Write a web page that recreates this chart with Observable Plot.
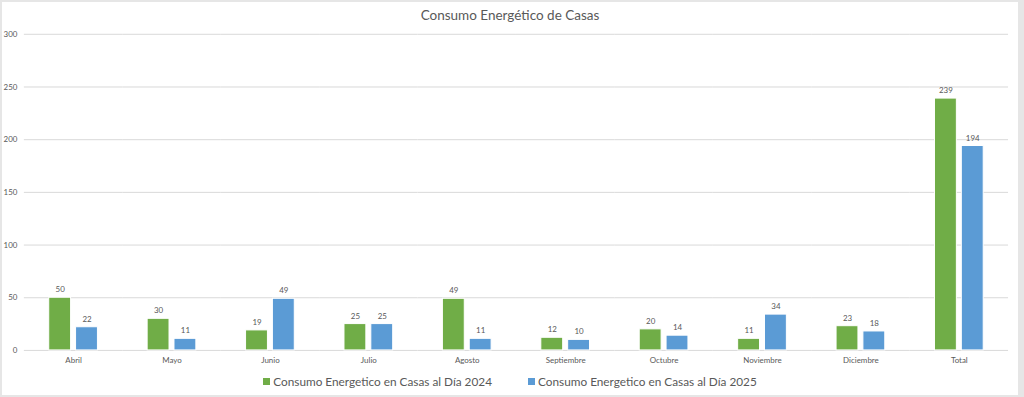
<!DOCTYPE html>
<html>
<head>
<meta charset="utf-8">
<script src="https://cdn.jsdelivr.net/npm/d3@7"></script>
<script src="https://cdn.jsdelivr.net/npm/@observablehq/plot@0.6"></script>
<style>
  html, body { margin: 0; padding: 0; background: #e6e6e6; }
  #frame { position: absolute; left: 2px; top: 2px; width: 1016px; height: 393px; background: #fff; overflow: hidden; font-family: Lato, "Open Sans", sans-serif; color: #595959; }
  #title { position: absolute; left: 0; top: 5px; width: 1016px; text-align: center; font-size: 13.5px; }
  #chart { position: absolute; left: -2px; top: -2px; }
  #legend { position: absolute; left: 0; top: 372px; width: 1016px; display: flex; justify-content: center; gap: 36px; font-size: 11.8px; }
  .item { display: flex; align-items: center; gap: 3px; }
  .sw { width: 7px; height: 7px; display: inline-block; }
</style>
</head>
<body>
<div id="frame">
  <div id="title">Consumo Energético de Casas</div>
  <div id="chart"></div>
  <div id="legend"></div>
</div>
<script>
const months = ["Abril","Mayo","Junio","Julio","Agosto","Septiembre","Octubre","Noviembre","Diciembre","Total"];
const values2024 = [50,30,19,25,49,12,20,11,23,239];
const values2025 = [22,11,49,25,11,10,14,34,18,194];
const series = ["Consumo Energetico en Casas al Día 2024","Consumo Energetico en Casas al Día 2025"];
const colors = ["#70AD47","#5B9BD5"];
const yTicks = [0,50,100,150,200,250,300];

const data = months.flatMap((m, i) => [
  {month: m, series: series[0], value: values2024[i]},
  {month: m, series: series[1], value: values2025[i]}
]);

const chart = Plot.plot({
  width: 1024,
  height: 372,
  marginTop: 34,
  marginBottom: 20,
  marginLeft: 24,
  marginRight: 10,
  style: {fontFamily: "Lato, 'Open Sans', sans-serif", fontSize: "8px", color: "#595959", background: "transparent"},
  fx: {domain: months, padding: 0, label: null, axis: null},
  x: {domain: series, paddingInner: 0.18, paddingOuter: 0.877, axis: null},
  y: {domain: [0, 300], axis: null},
  color: {domain: series, range: colors},
  marks: [
    Plot.gridY(yTicks, {stroke: "#d9d9d9", strokeOpacity: 1, strokeWidth: 1}),
    Plot.axisY(yTicks, {tickSize: 0, tickPadding: 7, label: null, fill: "#595959"}),
    Plot.axisFx({anchor: "bottom", tickSize: 0, tickPadding: 7, label: null, fill: "#595959"}),
    Plot.barY(data, {fx: "month", x: "series", y: "value", fill: "series", stroke: "white", strokeWidth: 1}),
    Plot.text(data, {fx: "month", x: "series", y: "value", text: "value", dy: -8, fill: "#595959"})
  ]
});
document.getElementById("chart").appendChild(chart);

const legend = document.getElementById("legend");
series.forEach((s, i) => {
  const item = document.createElement("div");
  item.className = "item";
  const sw = document.createElement("span");
  sw.className = "sw";
  sw.style.background = colors[i];
  const t = document.createElement("span");
  t.textContent = s;
  item.appendChild(sw);
  item.appendChild(t);
  legend.appendChild(item);
});
</script>
</body>
</html>
